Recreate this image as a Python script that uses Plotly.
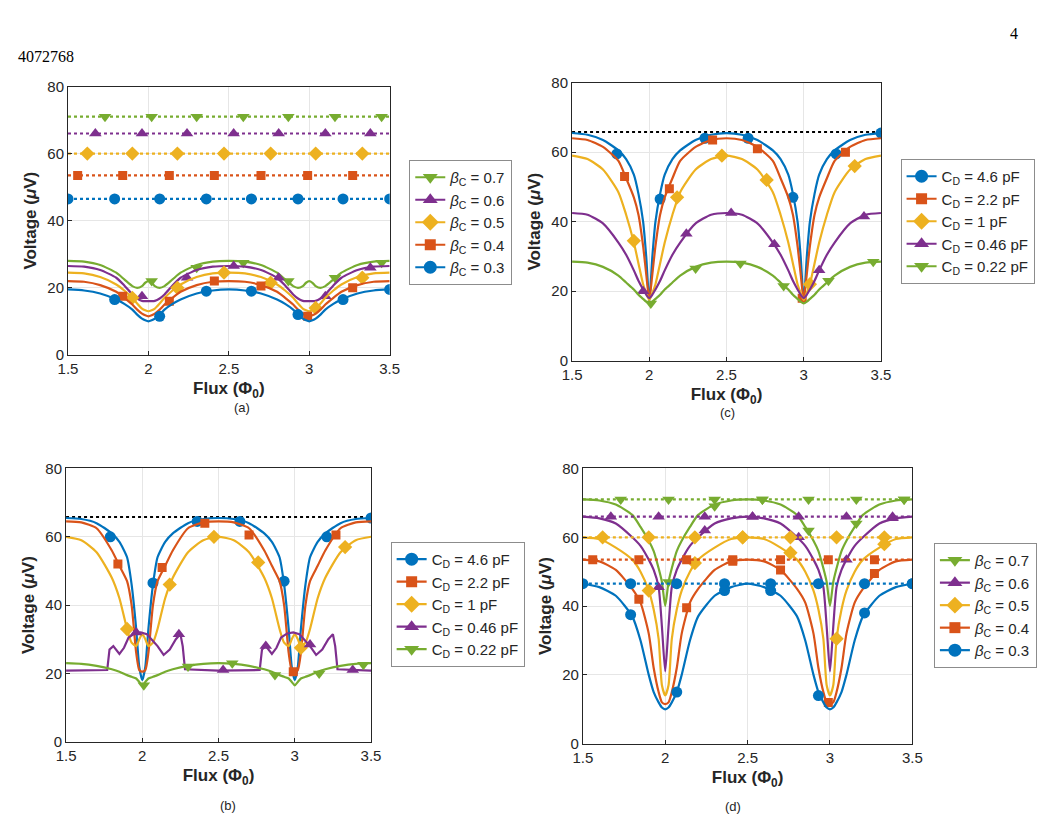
import plotly.graph_objects as go

# shared flux grid for the smooth curves
flux = [1.5, 1.6, 1.7, 1.8, 1.85, 1.9, 1.93, 1.96, 1.98, 2.0, 2.02, 2.04, 2.07, 2.1, 2.15, 2.2, 2.3, 2.4,
        2.5, 2.6, 2.7, 2.8, 2.85, 2.9, 2.93, 2.96, 2.98, 3.0, 3.02, 3.04, 3.07, 3.1, 3.15, 3.2, 3.3, 3.4, 3.5]

# ---- panel (a): beta_C sweep, dotted = reference levels, solid = measured
a_levels = [71, 66, 60, 53.5, 46.5]  # 0.7 .. 0.3
a_y07 = [28, 27.8, 26.8, 24.5, 22.5, 20.5, 20, 20.5, 21.5, 22, 21.5, 20.5, 20, 20.5, 22.5, 24.5, 26.8, 27.8,
         28, 27.8, 26.8, 24.5, 22.5, 20.5, 20, 20.5, 21.5, 22, 21.5, 20.5, 20, 20.5, 22.5, 24.5, 26.8, 27.8, 28]
a_y06 = [26.5, 26.3, 25.3, 23, 20.7, 18, 16.8, 16.1, 16, 16, 16, 16.1, 16.8, 18, 20.7, 23, 25.3, 26.3,
         26.5, 26.3, 25.3, 23, 20.7, 18, 16.8, 16.1, 16, 16, 16, 16.1, 16.8, 18, 20.7, 23, 25.3, 26.3, 26.5]
a_y05 = [24.5, 24.3, 23.2, 21, 19.2, 17, 15.3, 13.8, 13.3, 13, 13.3, 13.8, 15.3, 17, 19.2, 21, 23.2, 24.3,
         24.5, 24.3, 23.2, 21, 19.2, 17, 15.3, 13.8, 13.3, 13, 13.3, 13.8, 15.3, 17, 19.2, 21, 23.2, 24.3, 24.5]
a_y04 = [22, 21.8, 20.8, 18.8, 17, 15, 13.5, 12.3, 11.8, 11.5, 11.8, 12.3, 13.5, 15, 17, 18.8, 20.8, 21.8,
         22, 21.8, 20.8, 18.8, 17, 15, 13.5, 12.3, 11.8, 11.5, 11.8, 12.3, 13.5, 15, 17, 18.8, 20.8, 21.8, 22]
a_y03 = [19.5, 19.2, 18.3, 16.5, 15.2, 13.5, 12, 10.8, 10.3, 10, 10.3, 10.8, 12, 13.5, 15.2, 16.5, 18.3, 19.2,
         19.5, 19.2, 18.3, 16.5, 15.2, 13.5, 12, 10.8, 10.3, 10, 10.3, 10.8, 12, 13.5, 15.2, 16.5, 18.3, 19.2, 19.5]

# marker positions on the dotted level lines (a) and (d)
lvl_mx07 = [1.73, 2.02, 2.3, 2.59, 2.87, 3.16, 3.45]
lvl_mx06 = [1.67, 1.96, 2.24, 2.53, 2.81, 3.1, 3.38]
lvl_mx05 = [1.62, 1.9, 2.18, 2.47, 2.76, 3.04, 3.33]
lvl_mx04 = [1.56, 1.84, 2.13, 2.41, 2.7, 2.99, 3.27]
lvl_mx03 = [1.5, 1.79, 2.07, 2.36, 2.64, 2.93, 3.21, 3.5]

a_mx07, a_my07 = [2.02, 2.3, 2.59, 2.87, 3.16, 3.45], [22, 26, 27.5, 22, 23, 27.5]
a_mx06, a_my06 = [1.96, 2.24, 2.53, 2.81, 3.1, 3.38], [17.5, 23, 26.5, 23, 17.5, 26]
a_mx05, a_my05 = [1.9, 2.18, 2.47, 2.76, 3.04, 3.33], [17, 20, 24.5, 21.5, 14, 23]
a_mx04, a_my04 = [1.84, 2.13, 2.41, 2.7, 2.99, 3.27], [17.5, 16, 22, 20.5, 11.5, 20]
a_mx03, a_my03 = [1.79, 2.07, 2.36, 2.64, 2.93, 3.21, 3.5], [16.5, 11.5, 19, 19, 12, 16.5, 19.5]

# ---- panel (c): C_D sweep
c_y46 = [65.5, 65, 63.5, 60.5, 58, 53.5, 48, 40, 30, 17, 30, 40, 48, 53.5, 58, 60.5, 63.5, 65,
         65.5, 65, 63.5, 60.5, 58, 53.5, 48, 40, 30, 17, 30, 40, 48, 53.5, 58, 60.5, 63.5, 65, 65.5]
c_y22 = [64, 63.5, 61.5, 57.5, 52.5, 47, 42, 33, 25, 17.5, 25, 33, 42, 47, 52.5, 57.5, 61.5, 63.5,
         64, 63.5, 61.5, 57.5, 52.5, 47, 42, 33, 25, 17.5, 25, 33, 42, 47, 52.5, 57.5, 61.5, 63.5, 64]
c_y10 = [59, 58, 55, 48.5, 42, 34, 28, 22, 19.5, 17.5, 19.5, 22, 28, 34, 42, 48.5, 55, 58,
         59, 58, 55, 48.5, 42, 34, 28, 22, 19.5, 17.5, 19.5, 22, 28, 34, 42, 48.5, 55, 58, 59]
c_y046 = [42.5, 42, 39.5, 34, 30.5, 26, 23, 20.5, 19, 18, 19, 20.5, 23, 26, 30.5, 34, 39.5, 42,
          42.5, 42, 39.5, 34, 30.5, 26, 23, 20.5, 19, 18, 19, 20.5, 23, 26, 30.5, 34, 39.5, 42, 42.5]
c_y022 = [28.5, 28.2, 27, 24.5, 22.5, 20.5, 19, 17.8, 17, 16.5, 17, 17.8, 19, 20.5, 22.5, 24.5, 27, 28.2,
          28.5, 28.2, 27, 24.5, 22.5, 20.5, 19, 17.8, 17, 16.5, 17, 17.8, 19, 20.5, 22.5, 24.5, 27, 28.2, 28.5]
c_mx46, c_my46 = [1.79, 2.07, 2.36, 2.64, 2.93, 3.21, 3.5], [59.5, 46.5, 64, 64, 47, 59.5, 65.5]
c_mx22, c_my22 = [1.84, 2.13, 2.41, 2.7, 2.99, 3.27], [53, 49.5, 63.5, 61, 18, 60]
c_mx10, c_my10 = [1.9, 2.18, 2.47, 2.76, 3.04, 3.33], [34.5, 47, 59, 52, 22, 56]
c_mx046, c_my046 = [1.96, 2.24, 2.53, 2.81, 3.1, 3.39], [20, 36.5, 42.5, 33.5, 26, 41.5]
c_mx022, c_my022 = [2.01, 2.3, 2.59, 2.87, 3.16, 3.45], [16.5, 26.5, 28, 21.5, 23, 28.5]

# ---- panel (b): C_D sweep, second design
b_y46 = [65.5, 65.2, 64, 61, 58.5, 54, 46, 33, 22, 18, 22, 33, 46, 54, 58.5, 61, 64, 65.2,
         65.5, 65.2, 64, 61, 58.5, 54, 46, 33, 22, 18, 22, 33, 46, 54, 58.5, 61, 64, 65.2, 65.5]
b_y22 = [64.5, 64.2, 62.5, 56, 51.5, 47, 40, 26, 21, 20.5, 21, 26, 40, 47, 51.5, 56, 62.5, 64.2,
         64.5, 64.2, 62.5, 56, 51.5, 47, 40, 26, 21, 20.5, 21, 26, 40, 47, 51.5, 56, 62.5, 64.2, 64.5]
b_y10 = [60, 59, 55.5, 48, 42, 33, 29, 28, 30, 31.5, 30, 28, 29, 33, 42, 48, 55.5, 59,
         60, 59, 55.5, 48, 42, 33, 29, 28, 30, 31.5, 30, 28, 29, 33, 42, 48, 55.5, 59, 60]
b_y022 = [23, 22.8, 22.2, 21.2, 20.5, 19.5, 19, 18.5, 17.5, 16.5, 17.5, 18.5, 19, 19.5, 20.5, 21.2, 22.2, 22.8,
          23, 22.8, 22.2, 21.2, 20.5, 19.5, 19, 18.5, 17.5, 16.5, 17.5, 18.5, 19, 19.5, 20.5, 21.2, 22.2, 22.8, 23]
b_x046 = [1.5, 1.77, 1.785, 1.81, 1.85, 1.88, 1.91, 1.95, 1.99, 2.03, 2.07, 2.1, 2.14, 2.18, 2.22, 2.25, 2.265, 2.28,
          2.5, 2.77, 2.785, 2.81, 2.85, 2.88, 2.91, 2.95, 2.99, 3.03, 3.07, 3.1, 3.14, 3.18, 3.22, 3.25, 3.265, 3.28, 3.5]
b_y046 = [20.8, 21, 27, 28, 25.7, 27.5, 30.5, 31.7, 32, 31.5, 29.5, 28, 25.4, 27, 30, 31.5, 28, 21.2,
          20.8, 21, 27, 28, 25.7, 27.5, 30.5, 31.7, 32, 31.5, 29.5, 28, 25.4, 27, 30, 31.5, 28, 21.2, 20.8]
b_mx46, b_my46 = [1.79, 2.07, 2.36, 2.64, 2.93, 3.21, 3.5], [60, 46.5, 64.5, 64.5, 47, 60, 65.5]
b_mx22, b_my22 = [1.84, 2.13, 2.41, 2.7, 2.99, 3.27], [52, 51, 64, 60.5, 20.5, 60.5]
b_mx10, b_my10 = [1.9, 2.18, 2.47, 2.76, 3.04, 3.33], [33, 46, 60, 52.5, 27.5, 57]
b_mx046, b_my046 = [1.96, 2.24, 2.53, 2.81, 3.1, 3.38], [32, 31.5, 21, 28, 28.5, 21]
b_mx022, b_my022 = [2.01, 2.3, 2.59, 2.87, 3.16, 3.45], [16.5, 22, 23, 19.5, 20, 22.5]

ref_level = 65.8  # black dotted line in (b) and (c)

# ---- panel (d): beta_C sweep, second design
d_y07 = [71, 70.7, 69.5, 66.5, 63, 59, 56, 51, 47, 40, 47, 51, 56, 59, 63, 66.5, 69.5, 70.7,
         71, 70.7, 69.5, 66.5, 63, 59, 56, 51, 47, 40, 47, 51, 56, 59, 63, 66.5, 69.5, 70.7, 71]
d_y06 = [66, 65.5, 64, 60, 57.5, 53.5, 50.5, 45.5, 34, 21, 34, 45.5, 50.5, 53.5, 57.5, 60, 64, 65.5,
         66, 65.5, 64, 60, 57.5, 53.5, 50.5, 45.5, 34, 21, 34, 45.5, 50.5, 53.5, 57.5, 60, 64, 65.5, 66]
d_y05 = [60, 59.5, 57, 53.5, 50, 44.5, 39, 30.5, 17, 14, 17, 30.5, 39, 44.5, 50, 53.5, 57, 59.5,
         60, 59.5, 57, 53.5, 50, 44.5, 39, 30.5, 17, 14, 17, 30.5, 39, 44.5, 50, 53.5, 57, 59.5, 60]
d_y04 = [53.5, 53, 50.5, 45, 41, 32, 22, 15, 12, 11.5, 12, 15, 22, 32, 41, 45, 50.5, 53,
         53.5, 53, 50.5, 45, 41, 32, 22, 15, 12, 11.5, 12, 15, 22, 32, 41, 45, 50.5, 53, 53.5]
d_y03 = [46.5, 45.5, 43, 37, 30, 20, 15, 12, 10.5, 10, 10.5, 12, 15, 20, 30, 37, 43, 45.5,
         46.5, 45.5, 43, 37, 30, 20, 15, 12, 10.5, 10, 10.5, 12, 15, 20, 30, 37, 43, 45.5, 46.5]
d_mx07, d_my07 = [2.02, 2.3, 2.59, 2.87, 3.16, 3.45], [47, 69, 71, 62, 64, 71]
d_mx06, d_my06 = [1.96, 2.24, 2.53, 2.81, 3.1, 3.38], [45.5, 62, 66, 60, 53.5, 65.5]
d_mx05, d_my05 = [1.9, 2.18, 2.47, 2.76, 3.04, 3.33], [44.5, 52.5, 60, 55.5, 30.5, 58]
d_mx04, d_my04 = [1.84, 2.13, 2.41, 2.7, 2.99, 3.27], [42, 39.5, 53, 50.5, 12, 49.5]
d_mx03, d_my03 = [1.79, 2.07, 2.36, 2.64, 2.93, 3.21, 3.5], [37.5, 15, 44.5, 44.5, 14, 38, 46.5]

beta_labels = ["0.7", "0.6", "0.5", "0.4", "0.3"]
cd_labels = ["4.6", "2.2", "1", "0.46", "0.22"]

BLUE, RED, YEL, PUR, GRN = "#0072BD", "#D95319", "#EDB120", "#7E2F8E", "#77AC30"
beta_colors = [GRN, PUR, YEL, RED, BLUE]
beta_symbols = ["triangle-down", "triangle-up", "diamond", "square", "circle"]
cd_colors = [BLUE, RED, YEL, PUR, GRN]
cd_symbols = ["circle", "square", "diamond", "triangle-up", "triangle-down"]
msize = {"circle": 11, "square": 9, "diamond": 11, "triangle-up": 11, "triangle-down": 11}

# page body has an 8px margin; keep the figure inside the window
OFF = 8
W, H = 1049 - 2 * OFF, 839 - 2 * OFF
fig = go.Figure()


def fx(px):
    return (px - OFF) / W


def fy(py):
    return 1 - (py - OFF) / H


# axis boxes in window pixels: (left, right, top, bottom)
boxes = {"a": (59, 387, 79, 353), "c": (573, 888, 75, 359),
         "b": (57, 368, 469, 748), "d": (584, 920, 469, 750)}
axnames = {"a": ("x", "y"), "c": ("x2", "y2"), "b": ("x3", "y3"), "d": ("x4", "y4")}
legpos = {"a": ("legend", 407, 154), "c": ("legend2", 908, 153),
          "b": ("legend3", 388, 544), "d": ("legend4", 942, 545)}


def curve(p, x, y, color, dash="solid", shape="spline"):
    xa, ya = axnames[p]
    fig.add_trace(go.Scatter(x=x, y=y, mode="lines", xaxis=xa, yaxis=ya, showlegend=False,
                             line=dict(color=color, width=2.2, dash=dash, shape=shape, smoothing=0.6),
                             hoverinfo="skip"))


def marks(p, x, y, color, symbol):
    xa, ya = axnames[p]
    fig.add_trace(go.Scatter(x=x, y=y, mode="markers", xaxis=xa, yaxis=ya, showlegend=False,
                             marker=dict(color=color, symbol=symbol, size=msize[symbol],
                                         line=dict(width=0))))


def legend_item(p, name, color, symbol):
    fig.add_trace(go.Scatter(x=[None], y=[None], mode="lines+markers", name=name,
                             legend=legpos[p][0], xaxis=axnames[p][0], yaxis=axnames[p][1],
                             line=dict(color=color, width=2.2),
                             marker=dict(color=color, symbol=symbol, size=msize[symbol] + 2)))


# (a) and (d)
lvl_mx = [lvl_mx07, lvl_mx06, lvl_mx05, lvl_mx04, lvl_mx03]
for p, solid, mxs, mys in [("a", [a_y07, a_y06, a_y05, a_y04, a_y03],
                             [a_mx07, a_mx06, a_mx05, a_mx04, a_mx03],
                             [a_my07, a_my06, a_my05, a_my04, a_my03]),
                            ("d", [d_y07, d_y06, d_y05, d_y04, d_y03],
                             [d_mx07, d_mx06, d_mx05, d_mx04, d_mx03],
                             [d_my07, d_my06, d_my05, d_my04, d_my03])]:
    for i in range(5):
        col, sym = beta_colors[i], beta_symbols[i]
        curve(p, [1.5, 3.5], [a_levels[i]] * 2, col, dash="dot", shape="linear")
        marks(p, lvl_mx[i], [a_levels[i]] * len(lvl_mx[i]), col, sym)
        curve(p, flux, solid[i], col)
        marks(p, mxs[i], mys[i], col, sym)
        legend_item(p, "<i>β</i><sub>C</sub> = " + beta_labels[i], col, sym)

# (c) and (b)
for p, xs, solid, mxs, mys in [("c", [flux] * 5, [c_y46, c_y22, c_y10, c_y046, c_y022],
                                [c_mx46, c_mx22, c_mx10, c_mx046, c_mx022],
                                [c_my46, c_my22, c_my10, c_my046, c_my022]),
                               ("b", [flux, flux, flux, b_x046, flux], [b_y46, b_y22, b_y10, b_y046, b_y022],
                                [b_mx46, b_mx22, b_mx10, b_mx046, b_mx022],
                                [b_my46, b_my22, b_my10, b_my046, b_my022])]:
    curve(p, [1.5, 3.5], [ref_level] * 2, "black", dash="dot", shape="linear")
    for i in range(5):
        col, sym = cd_colors[i], cd_symbols[i]
        shape = "linear" if (p == "b" and i == 3) else "spline"
        curve(p, xs[i], solid[i], col, shape=shape)
        marks(p, mxs[i], mys[i], col, sym)
        legend_item(p, "C<sub>D</sub> = " + cd_labels[i] + " pF", col, sym)

FONT = "Liberation Sans, Arial, sans-serif"
layout = dict(width=W, height=H, margin=dict(l=0, r=0, t=0, b=0),
              paper_bgcolor="white", plot_bgcolor="white",
              font=dict(family=FONT, color="#262626"))
for k, (l, r, t, b) in boxes.items():
    xa, ya = axnames[k]
    xkey = "xaxis" if xa == "x" else "xaxis" + xa[1:]
    ykey = "yaxis" if ya == "y" else "yaxis" + ya[1:]
    common = dict(showline=True, mirror=True, linecolor="#262626", linewidth=1,
                  ticks="inside", ticklen=4, tickcolor="#262626",
                  showgrid=True, gridcolor="#e6e6e6", zeroline=False,
                  tickfont=dict(size=15, color="#262626"))
    layout[xkey] = dict(common, domain=[fx(l), fx(r)], range=[1.5, 3.5], anchor=ya,
                        tickvals=[1.5, 2, 2.5, 3, 3.5], ticktext=["1.5", "2", "2.5", "3", "3.5"],
                        title=dict(text="<b>Flux (Φ<sub>0</sub>)</b>", font=dict(size=17), standoff=6))
    layout[ykey] = dict(common, domain=[fy(b), fy(t)], range=[0, 80], anchor=xa,
                        tickvals=[0, 20, 40, 60, 80],
                        title=dict(text="<b>Voltage (<i>μ</i>V)</b>", font=dict(size=17), standoff=6))
    name, lx, ly = legpos[k]
    layout[name] = dict(x=fx(lx), y=fy(ly), xanchor="left", yanchor="top",
                        bordercolor="#8c8c8c", borderwidth=1, bgcolor="white",
                        font=dict(size=15, color="#262626"), tracegroupgap=0)

captions = [("(a)", 226, 407), ("(c)", 741, 412), ("(b)", 212, 823), ("(d)", 747, 824)]
ann = [dict(text=t, x=fx(x), y=fy(y), xref="paper", yref="paper", showarrow=False,
            font=dict(size=13, family=FONT, color="#262626")) for t, x, y in captions]
ann.append(dict(text="4072768", x=fx(6), y=fy(38), xref="paper", yref="paper", xanchor="left",
                showarrow=False, font=dict(size=16, family="Liberation Serif, serif", color="black")))
ann.append(dict(text="4", x=fx(1030), y=fy(14), xref="paper", yref="paper", showarrow=False,
                font=dict(size=16, family="Liberation Serif, serif", color="black")))
layout["annotations"] = ann
fig.update_layout(**layout)

fig.write_html("out.html")
